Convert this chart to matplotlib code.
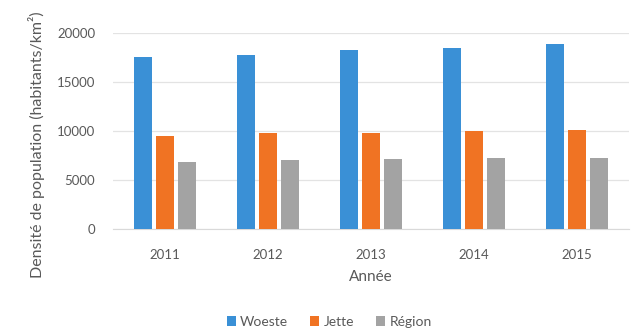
import matplotlib
matplotlib.use("Agg")
import matplotlib.pyplot as plt
import numpy as np

plt.rcParams['font.family'] = ['Lato', 'DejaVu Sans']

years = ["2011", "2012", "2013", "2014", "2015"]
woeste = [17500, 17750, 18250, 18500, 18850]
jette = [9500, 9750, 9850, 10000, 10150]
region = [6850, 7050, 7150, 7250, 7300]
series_names = ["Woeste", "Jette", "Région"]
colors = ["#3A90D6", "#F07323", "#A3A3A3"]
yticks = [0, 5000, 10000, 15000, 20000]

fig = plt.figure(figsize=(6.33, 3.33), dpi=100)
ax = fig.add_axes([0.179, 0.312, 0.814, 0.589])

x = np.arange(len(years))
w = 0.175
step = 0.214
for i, (vals, name, c) in enumerate(zip([woeste, jette, region], series_names, colors)):
    ax.bar(x + (i - 1) * step, vals, width=w, color=c, label=name, zorder=3)

ax.set_xlim(-0.5, len(years) - 0.5)
ax.set_ylim(0, 20000)
ax.set_yticks(yticks)
ax.set_yticklabels([str(t) for t in yticks])
ax.set_xticks(x)
ax.set_xticklabels(years)
ax.grid(axis='y', color='#E3E3E3', linewidth=0.9, zorder=0)
for s in ['top', 'right', 'left']:
    ax.spines[s].set_visible(False)
ax.spines['bottom'].set_color('#D9D9D9')
ax.tick_params(axis='both', length=0, colors='#595959', labelsize=9.5)
ax.tick_params(axis='y', pad=13)
ax.tick_params(axis='x', pad=14)
ax.set_xlabel("Année", color='#595959', fontsize=11, labelpad=7)

fig.text(0.058, 0.565, "Densité de population (habitants/km²)", rotation=90,
         ha='center', va='center', color='#595959', fontsize=11.5)

leg = fig.legend(loc='center', bbox_to_anchor=(0.52, 0.033), ncol=3, frameon=False,
                 fontsize=10, handlelength=0.65, handleheight=0.65, handletextpad=0.3,
                 columnspacing=1.6)
for t in leg.get_texts():
    t.set_color('#595959')

fig.savefig("out.png", dpi=100)
